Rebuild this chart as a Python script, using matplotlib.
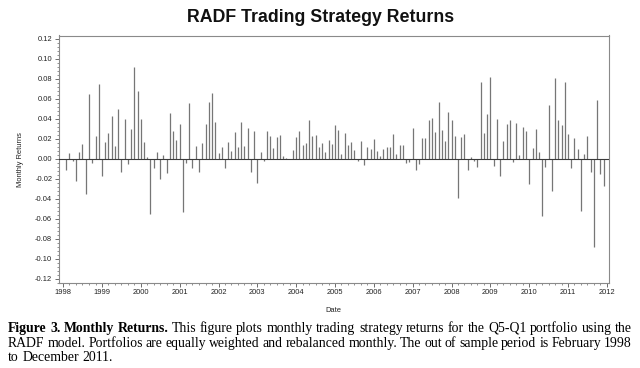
import matplotlib
matplotlib.use('Agg')
import matplotlib.pyplot as plt
import matplotlib.dates as mdates
from matplotlib.ticker import FormatStrFormatter, MultipleLocator
import pandas as pd
import numpy as np

# Monthly Q5-Q1 returns, Feb 1998 - Dec 2011
r1998 = [-0.011, 0.006, -0.002, -0.022, 0.007, 0.015, -0.035, 0.065, -0.004, 0.023, 0.075]
r1999 = [-0.017, 0.017, 0.026, 0.043, 0.013, 0.050, -0.013, 0.040, -0.005, 0.030, 0.092, 0.068]
r2000 = [0.040, 0.017, 0.002, -0.055, -0.009, 0.007, -0.020, 0.004, -0.014, 0.046, 0.028, 0.019]
r2001 = [0.035, -0.053, -0.004, 0.056, -0.009, 0.013, -0.013, 0.016, 0.035, 0.057, 0.066, 0.037]
r2002 = [0.006, 0.012, -0.009, 0.017, 0.008, 0.027, 0.012, 0.037, 0.013, 0.031, -0.013, 0.028]
r2003 = [-0.024, 0.007, -0.002, 0.028, 0.023, 0.011, 0.022, 0.024, 0.003, 0.001, 0.000, 0.009]
r2004 = [0.022, 0.028, 0.014, 0.016, 0.039, 0.023, 0.024, 0.012, 0.016, 0.007, 0.019, 0.015]
r2005 = [0.034, 0.029, 0.005, 0.026, 0.014, 0.017, 0.009, -0.002, 0.018, -0.006, 0.012, 0.010]
r2006 = [0.020, 0.008, 0.003, 0.010, 0.012, 0.012, 0.025, 0.005, 0.014, 0.014, -0.004, -0.003]
r2007 = [0.031, -0.011, -0.005, 0.021, 0.021, 0.039, 0.041, 0.027, 0.057, 0.029, 0.018, 0.047]
r2008 = [0.039, 0.023, -0.039, 0.022, 0.025, -0.011, 0.002, -0.002, -0.008, 0.077, 0.026, 0.045]
r2009 = [0.082, -0.007, 0.040, -0.017, 0.018, 0.035, 0.039, -0.003, 0.036, 0.004, 0.032, 0.028]
r2010 = [-0.025, 0.011, 0.030, 0.007, -0.057, -0.008, 0.054, -0.032, 0.081, 0.039, 0.034, 0.077]
r2011 = [0.025, -0.009, 0.021, 0.010, -0.052, 0.005, 0.023, -0.013, -0.088, 0.059, -0.015, -0.027]

returns = (r1998 + r1999 + r2000 + r2001 + r2002 + r2003 + r2004 + r2005 +
           r2006 + r2007 + r2008 + r2009 + r2010 + r2011)
dates = pd.date_range('1998-02-01', periods=len(returns), freq='MS')

title = "RADF Trading Strategy Returns"
ylabel = "Monthly Returns"
xlabel = "Date"
caption_lines = [
    [("Figure", True), ("3.", True), ("Monthly", True), ("Returns.", True)] +
    [(w, False) for w in "This figure plots monthly trading strategy returns for the Q5-Q1 portfolio using the".split()],
    [(w, False) for w in "RADF model. Portfolios are equally weighted and rebalanced monthly. The out of sample period is February 1998".split()],
    [(w, False) for w in "to December 2011.".split()],
]

plt.rcParams['axes.unicode_minus'] = False
plt.rcParams['font.family'] = ['Liberation Sans', 'DejaVu Sans']

W, H = 640, 368
fig = plt.figure(figsize=(6.4, 3.68), dpi=100)
fig.patch.set_facecolor('white')

L, R, T, B = 58.5, 608.5, 35.5, 283.0
ax = fig.add_axes([L / W, 1 - B / H, (R - L) / W, (B - T) / H])

ax.vlines(dates, 0, returns, color='#767676', linewidth=0.9)
ax.axhline(0, color='#3a3a3a', linewidth=0.8, zorder=3)

ax.set_ylim(-0.1242, 0.1235)
ax.set_xlim(pd.Timestamp('1997-11-18'), pd.Timestamp('2012-01-16'))
ax.set_yticks(np.round(np.arange(-0.12, 0.1201, 0.02), 2))
ax.yaxis.set_major_formatter(FormatStrFormatter('%.2f'))
ax.yaxis.set_minor_locator(MultipleLocator(0.004))
ax.xaxis.set_major_locator(mdates.YearLocator())
ax.xaxis.set_major_formatter(mdates.DateFormatter('%Y'))
ax.xaxis.set_minor_locator(mdates.MonthLocator(bymonth=[3, 5, 7, 9, 11]))

for s in ax.spines.values():
    s.set_color('#8a8a8a')
    s.set_linewidth(0.8)

ax.tick_params(which='major', length=3, width=0.6, color='#555555',
               labelsize=5.4, labelcolor='#222222', pad=1.5)
ax.tick_params(which='minor', length=1.5, width=0.5, color='#666666')

ax.set_ylabel(ylabel, fontsize=5.4, color='#222222', labelpad=8)
ax.set_xlabel(xlabel, fontsize=5.4, color='#222222', labelpad=8)

fig.text(321 / W, 1 - 18 / H, title, ha='center', va='center',
         fontsize=12.8, fontweight='bold', color='#111111')

# justified caption
renderer = fig.canvas.get_renderer()
cap_left, cap_right = 8.0, 632.0
cap_size = 9.9
baselines = [332, 347, 361]
sp = fig.text(0, 0, 'a a', fontsize=cap_size, family='Liberation Serif')
sp2 = fig.text(0, 0, 'aa', fontsize=cap_size, family='Liberation Serif')
natural_gap = sp.get_window_extent(renderer).width - sp2.get_window_extent(renderer).width
sp.remove(); sp2.remove()
for li, (words, yb) in enumerate(zip(caption_lines, baselines)):
    texts = []
    widths = []
    for w, bold in words:
        t = fig.text(0, 1 - yb / H, w, fontsize=cap_size, family='Liberation Serif',
                     fontweight='bold' if bold else 'normal', color='black',
                     ha='left', va='baseline')
        widths.append(t.get_window_extent(renderer).width)
        texts.append(t)
    if li < len(caption_lines) - 1:
        gap = (cap_right - cap_left - sum(widths)) / (len(words) - 1)
        gap = max(gap, natural_gap * 0.6)
    else:
        gap = natural_gap
    x = cap_left
    for t, w in zip(texts, widths):
        t.set_x(x / W)
        x += w + gap

fig.savefig('out.png', dpi=100)
